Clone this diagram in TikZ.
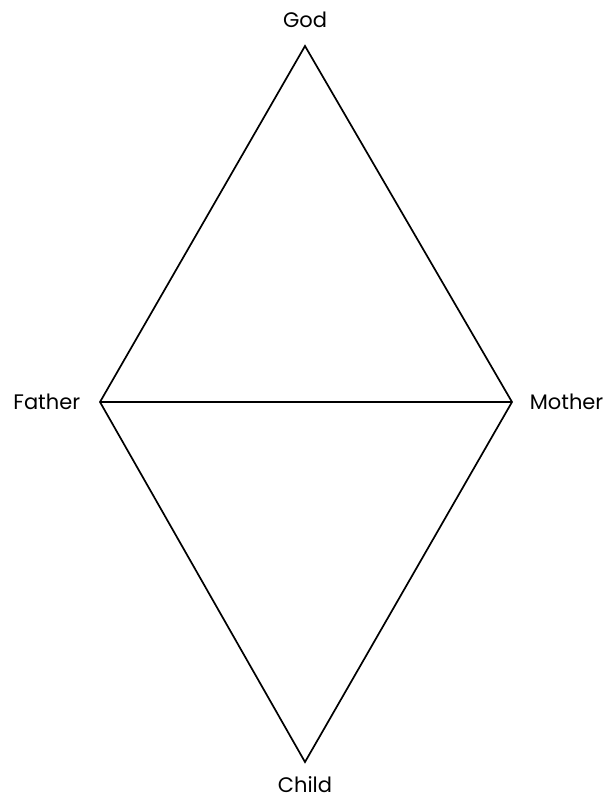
\documentclass[tikz,border=0pt]{standalone}
\usepackage{fontspec}
\setmainfont{Poppins}
\begin{document}
\begin{tikzpicture}[x=1pt,y=-1pt,line width=1.7pt,
    lbl/.style={font=\fontsize{21}{24}\selectfont,inner sep=0pt}]
        \useasboundingbox (0,0) rectangle (614,801);
        \def\xl{100} \def\xm{305} \def\xr{512}
        \def\ytop{46} \def\ymid{402} \def\ybot{762}

        \coordinate (god) at (\xm,\ytop);
        \coordinate (father) at (\xl,\ymid);
        \coordinate (mother) at (\xr,\ymid);
        \coordinate (child) at (\xm,\ybot);

        \node[lbl,anchor=base] (godlabel) at (\xm,27) {God};
        \node[lbl,anchor=east] (fatherlabel) at (81,\ymid) {Father};
        \node[lbl,anchor=west] (motherlabel) at (529,\ymid) {Mother};
        \node[lbl,anchor=base] (childlabel) at (\xm,792) {Child};

        \draw (god) -- (father) -- (child) -- (mother) -- cycle;
        \draw (father) -- (mother);
      \end{tikzpicture}
\end{document}
